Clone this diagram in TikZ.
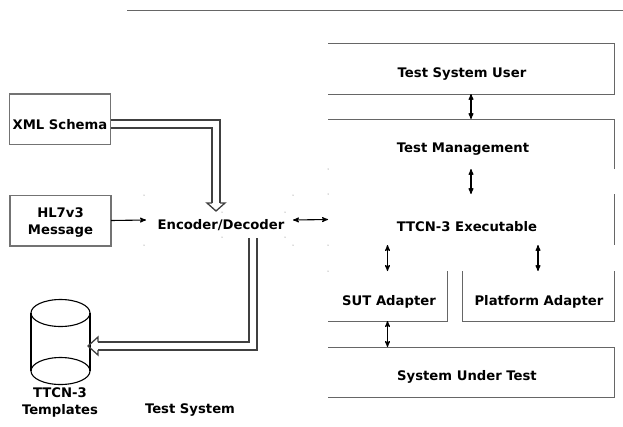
\documentclass[tikz,border=0pt]{standalone}
\usepackage{fontspec}
\setmainfont{DejaVu Sans}
\usetikzlibrary{arrows}
\tikzset{
 box/.style={inner sep=0, outer sep=0, minimum width=#1},
 box/.default=286,
 lbl/.style={font=\bfseries\fontsize{13.2}{17}\selectfont, align=center, inner sep=0, yshift=-1.5},
 edge/.style={draw=black!60, line width=1},
 solid box/.style={draw=black!55, line width=1.5, inner sep=0, outer sep=0, minimum width=101, minimum height=50.5, align=center},
 bigarrow/.style={double=white, draw=black!75, line width=1.3, double distance=6.7},
 bighead/.style={draw=black!75, line width=1.3, line join=miter},
 link/.style={black, line width=1.1, >=stealth'},
}
\begin{document}
\begin{tikzpicture} [x=1pt,y=-1pt]
\useasboundingbox (0,0) rectangle (623,426);
\draw[edge] (127,10)--(623,10);
% stack on the right, the sides are left open
\node[box, minimum height=51] (user) at (471,68.5) {};
\node[box, minimum height=50] (mgmt) at (471,144) {};
\node[box, minimum height=51] (exec) at (471,219.5) {};
\node[box=119, minimum height=50] (sutad) at (387.5,296) {};
\node[box=152, minimum height=50] (pfad) at (538,296) {};
\node[box, minimum height=50] (sys) at (471,372) {};
\node[lbl] (usertxt) at (462,73) {Test System User};
\node[lbl] (mgmttxt) at (463,148) {Test Management};
\node[lbl] (exectxt) at (467,225) {TTCN-3 Executable};
\node[lbl] (sutadtxt) at (389,300) {SUT Adapter};
\node[lbl] (pfadtxt) at (539,300) {Platform Adapter};
\node[lbl] (systxt) at (467,375) {System Under Test};
\draw[edge] (user.north west)--(user.north east)--(user.south east)--(user.south west);
\draw[edge] (sys.north west)--(sys.north east)--(sys.south east)--(sys.south west);
\draw[edge] (mgmt.south east)--(mgmt.north east)--(mgmt.north west);
\draw[edge] (exec.north east)--(exec.south east);
\draw[edge] (sutad.north east)--(sutad.south east)--(sutad.south west);
\draw[edge] (pfad.north west)--(pfad.south west)--(pfad.south east)--(pfad.north east);
% left side
\node[solid box] (xml) at (60,119) {};
\node[lbl] (xmltxt) at (60,123) {XML Schema};
\node[solid box] (hl) at (60.5,220.5) {};
\node[lbl] (hltxt) at (60.5,221.5) {HL7v3\\Message};
\node[inner sep=0, outer sep=0, minimum width=147, minimum height=50] (enc) at (219.5,220) {};
\node[lbl] (enctxt) at (221,224) {Encoder/Decoder};
\draw[black, line width=1.1] (60.5,313) ellipse (29.5 and 13.5);
\draw[black, line width=1.1] (60.5,371) ellipse (29.5 and 13.5);
\draw[black, line width=1.1] (31,313)--(31,371);
\draw[black, line width=1.1] (90,313)--(90,371);
\coordinate (db) at (98,346);
\coordinate (encout) at (253,238);
\coordinate (enchead) at ([xshift=-3.5,yshift=-8]enc.north);
\node[lbl] (dbtxt) at (60,400.5) {TTCN-3\\Templates};
\node[lbl] (systemtxt) at (190,409) {Test System};
\foreach \x/\y in {144/195, 293/195, 144/245, 293/245, 222/212, 285/212, 222/237, 285/237, 328/169, 328/194, 328/245, 328/271} {
 \fill[black!60] (\x,\y) circle (.5);
}
% connectors
\draw[bigarrow] (xml.east |- 0,124) -| (enchead);
\draw[bighead] ([xshift=-4]enchead)--([xshift=-9]enchead)--([yshift=-8]enchead)--([xshift=9]enchead)--([xshift=4]enchead);
\draw[bigarrow] (encout) |- (db);
\draw[bighead] ([yshift=4]db)--([yshift=9]db)--([xshift=-10]db)--([yshift=-9]db)--([yshift=-4]db);
\draw[link, ->] (hl.east)--(enc.west);
\draw[link, <->] (enc.east)--(exec.west);
\draw[link, <->] (user.south)--(mgmt.north);
\draw[link, <->] (mgmt.south)--(exec.north);
\draw[link, <->] (sutad.north)--(sutad.north |- exec.south);
\draw[link, <->] (pfad.north)--(pfad.north |- exec.south);
\draw[link, <->] (sutad.south)--(sutad.south |- sys.north);
\end{tikzpicture}
\end{document}
